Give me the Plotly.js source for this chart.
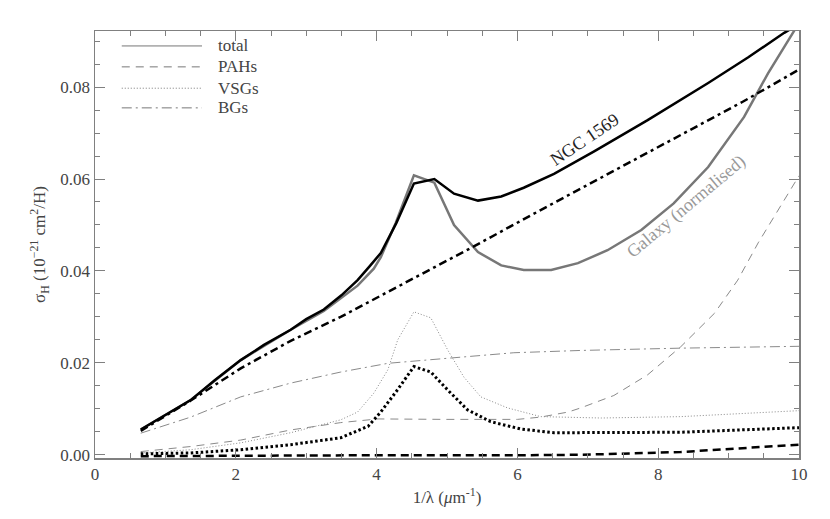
<!DOCTYPE html>
<html>
<head>
<meta charset="utf-8">
<script src="https://cdn.plot.ly/plotly-3.0.1.min.js"></script>
<style>
  html, body { margin: 0; padding: 0; background: #fff; }
  #chart { width: 830px; height: 519px; }
</style>
</head>
<body>
<div id="chart"></div>
<script>
// NGC 1569 (black) vs Galaxy normalised (grey) extinction cross-section
const xTotal = [0.65, 1.0, 1.36, 1.7, 2.07, 2.4, 2.78, 3.0, 3.25, 3.5, 3.73, 3.9, 4.06, 4.28, 4.53, 4.82, 5.1, 5.44, 5.77, 6.09, 6.52, 7.09, 7.85, 8.71, 9.28, 9.79, 10.0];
const yTotal = [0.0055, 0.0087, 0.0119, 0.0162, 0.0206, 0.0239, 0.0272, 0.0295, 0.0316, 0.0347, 0.0380, 0.0410, 0.0439, 0.0504, 0.0590, 0.0600, 0.0568, 0.0553, 0.0562, 0.0581, 0.0611, 0.0660, 0.0728, 0.0809, 0.0865, 0.0918, 0.0937];

const xGalaxy = [0.65, 1.36, 2.07, 2.78, 3.25, 3.49, 3.73, 3.96, 4.06, 4.27, 4.53, 4.82, 5.1, 5.44, 5.77, 6.09, 6.48, 6.86, 7.28, 7.76, 8.22, 8.71, 9.22, 9.56, 9.93, 10.0];
const yGalaxy = [0.0055, 0.0119, 0.0206, 0.0272, 0.0313, 0.0340, 0.0368, 0.0405, 0.0430, 0.0504, 0.0608, 0.0592, 0.0500, 0.0441, 0.0412, 0.0402, 0.0402, 0.0417, 0.0445, 0.0489, 0.0547, 0.0626, 0.0735, 0.0830, 0.0922, 0.0945];

const xBgN = [0.65, 1.0, 1.36, 2.07, 2.78, 3.49, 4.2, 5.34, 6.3, 7.19, 8.32, 9.2, 10.0];
const yBgN = [0.0052, 0.0085, 0.0118, 0.0188, 0.0248, 0.0300, 0.0357, 0.0450, 0.0530, 0.0603, 0.0695, 0.0768, 0.0838];

const xBgG = [0.65, 1.36, 2.07, 2.78, 3.49, 4.16, 5.01, 5.95, 6.9, 8.32, 10.0];
const yBgG = [0.0047, 0.0082, 0.0126, 0.0156, 0.0180, 0.0199, 0.0210, 0.0222, 0.0227, 0.0232, 0.0236];

const xVsgG = [0.65, 1.36, 2.07, 2.78, 3.49, 3.73, 3.96, 4.16, 4.3, 4.53, 4.77, 5.01, 5.24, 5.48, 5.86, 6.33, 7.19, 8.32, 10.0];
const yVsgG = [0.0004, 0.0011, 0.0026, 0.0048, 0.0076, 0.0093, 0.0134, 0.0185, 0.0250, 0.0311, 0.0298, 0.0228, 0.0169, 0.0126, 0.0102, 0.0083, 0.0080, 0.0083, 0.0096];

const xVsgN = [0.65, 1.36, 2.07, 2.78, 3.49, 3.88, 4.06, 4.3, 4.53, 4.77, 5.01, 5.29, 5.62, 6.05, 6.52, 7.19, 8.32, 10.0];
const yVsgN = [0.0002, 0.0004, 0.0011, 0.0022, 0.0037, 0.0062, 0.0093, 0.0142, 0.0192, 0.0180, 0.0141, 0.0098, 0.0072, 0.0056, 0.0048, 0.0048, 0.0049, 0.0059];

const xPahG = [0.65, 1.36, 2.07, 2.78, 3.49, 4.02, 5.0, 6.0, 6.33, 6.72, 6.9, 7.37, 7.85, 8.32, 8.8, 9.13, 9.42, 10.0];
const yPahG = [0.0007, 0.0018, 0.0032, 0.0054, 0.0070, 0.0078, 0.0077, 0.0077, 0.0082, 0.0093, 0.0102, 0.0129, 0.0174, 0.0235, 0.0308, 0.0380, 0.0461, 0.0607];

const xPahN = [0.65, 2.0, 4.0, 6.0, 6.9, 8.32, 9.28, 10.0];
const yPahN = [-0.0003, -0.0002, -0.0001, -0.0001, 0.0000, 0.0006, 0.0015, 0.0022];

const legendLabels = ['total', 'PAHs', 'VSGs', 'BGs'];
const legendDash = ['solid', '8px,6px', '1px,2px', '10px,4px,2px,4px'];

const BLACK = '#000000';
const GREY = '#777777';
const LIGHT = '#8a8a8a';
const FONT = '"Liberation Serif", "DejaVu Serif", serif';

function line(x, y, color, width, dash) {
    return {
        x: x, y: y, type: 'scatter', mode: 'lines',
        line: { color: color, width: width, dash: dash },
        showlegend: false, hoverinfo: 'skip'
    };
}

const traces = [
    line(xPahG, yPahG, LIGHT, 1, '8px,6px'),
    line(xVsgG, yVsgG, LIGHT, 1, '1px,2px'),
    line(xBgG, yBgG, LIGHT, 1, '10px,4px,2px,4px'),
    line(xGalaxy, yGalaxy, GREY, 2.5, 'solid'),
    line(xPahN, yPahN, BLACK, 2.5, '8px,5px'),
    line(xVsgN, yVsgN, BLACK, 3, '2.5px,2.5px'),
    line(xBgN, yBgN, BLACK, 2.5, '8px,4px,3px,4px'),
    line(xTotal, yTotal, BLACK, 2.5, 'solid')
];

// legend drawn as short lines + labels inside the frame
const legendY = [0.965, 0.916, 0.866, 0.820];
const shapes = legendLabels.map((lab, i) => ({
    type: 'line', xref: 'paper', yref: 'paper',
    x0: 0.038, x1: 0.152, y0: legendY[i], y1: legendY[i],
    line: { color: GREY, width: 1, dash: legendDash[i] }
}));
const annotations = legendLabels.map((lab, i) => ({
    xref: 'paper', yref: 'paper', x: 0.172, y: legendY[i],
    xanchor: 'left', yanchor: 'middle', showarrow: false,
    text: lab, font: { family: FONT, size: 17, color: '#444' }
}));
annotations.push({
    x: 6.96, y: 0.0688, text: 'NGC 1569', textangle: -34, showarrow: false,
    font: { family: FONT, size: 18, color: '#222' }
});
annotations.push({
    x: 8.40, y: 0.0540, text: 'Galaxy (normalised)', textangle: -40, showarrow: false,
    font: { family: FONT, size: 18, color: '#999' }
});

const axisCommon = {
    showgrid: false, zeroline: false, showline: true,
    linecolor: '#808080', linewidth: 1.5, mirror: 'ticks',
    ticks: 'inside', ticklen: 10, tickcolor: '#808080', tickwidth: 1,
    tickfont: { family: FONT, size: 17, color: '#444' }
};

const layout = {
    width: 830, height: 519,
    paper_bgcolor: '#fff', plot_bgcolor: '#fff',
    margin: { l: 95, r: 31, t: 31, b: 61 },
    font: { family: FONT, color: '#444' },
    showlegend: false,
    xaxis: {
        ...axisCommon,
        range: [0, 10], dtick: 2, tick0: 0,
        minor: { dtick: 0.5, ticks: 'inside', ticklen: 5, tickcolor: '#808080' },
        title: { text: '1/λ (<i>μ</i>m<sup>-1</sup>)', font: { family: FONT, size: 17, color: '#444' }, standoff: 8 }
    },
    yaxis: {
        ...axisCommon,
        range: [-0.0007, 0.0922], dtick: 0.02, tick0: 0, tickformat: '.2f',
        minor: { dtick: 0.005, ticks: 'inside', ticklen: 5, tickcolor: '#808080' },
        title: { text: 'σ<sub>H</sub> (10<sup>−21</sup> cm<sup>2</sup>/H)', font: { family: FONT, size: 17, color: '#444' }, standoff: 10 }
    },
    shapes: shapes,
    annotations: annotations
};

Plotly.newPlot('chart', traces, layout, { displayModeBar: false, staticPlot: true });
</script>
</body>
</html>
